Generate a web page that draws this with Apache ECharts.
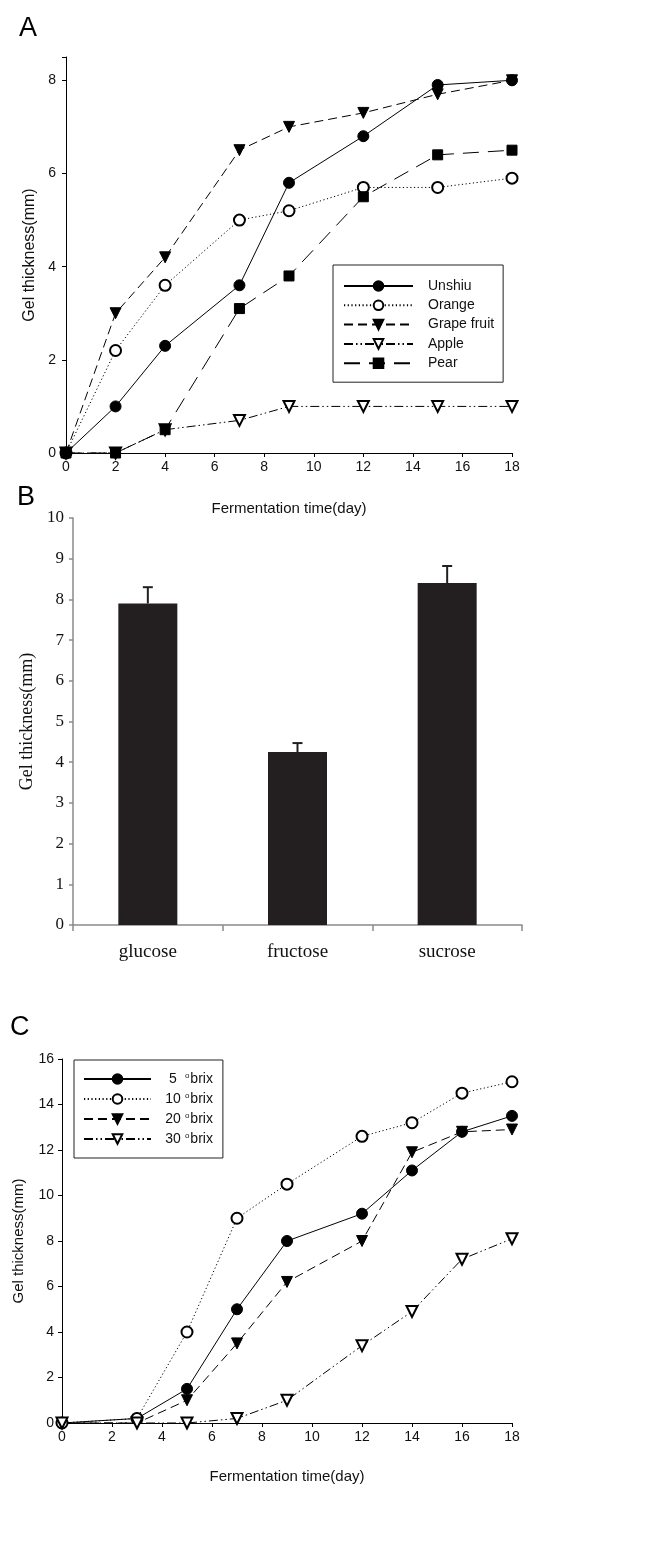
<!DOCTYPE html>
<html>
<head>
<meta charset="utf-8">
<script src="https://cdn.jsdelivr.net/npm/echarts@6/dist/echarts.min.js"></script>
<style>
html,body{margin:0;padding:0;background:#fff;}
#chart{width:646px;height:1546px;}
</style>
</head>
<body>
<div id="chart"></div>
<script>
// Panel A: fruit juices
var daysA = [0, 2, 4, 7, 9, 12, 15, 18];
var unshiu = [0, 1.0, 2.3, 3.6, 5.8, 6.8, 7.9, 8.0];
var orange = [0, 2.2, 3.6, 5.0, 5.2, 5.7, 5.7, 5.9];
var grapefruit = [0, 3.0, 4.2, 6.5, 7.0, 7.3, 7.7, 8.0];
var apple = [0, 0, 0.5, 0.7, 1.0, 1.0, 1.0, 1.0];
var pear = [0, 0, 0.5, 3.1, 3.8, 5.5, 6.4, 6.5];
var namesA = ['Unshiu', 'Orange', 'Grape fruit', 'Apple', 'Pear'];

// Panel B: sugars
var sugars = ['glucose', 'fructose', 'sucrose'];
var sugarMean = [7.9, 4.25, 8.4];
var sugarErr = [0.4, 0.22, 0.42];

// Panel C: brix
var daysC = [0, 3, 5, 7, 9, 12, 14, 16, 18];
var brix5 = [0, 0.2, 1.5, 5.0, 8.0, 9.2, 11.1, 12.8, 13.5];
var brix10 = [0, 0.2, 4.0, 9.0, 10.5, 12.6, 13.2, 14.5, 15.0];
var brix20 = [0, 0, 1.0, 3.5, 6.2, 8.0, 11.9, 12.8, 12.9];
var brix30 = [0, 0, 0, 0.2, 1.0, 3.4, 4.9, 7.2, 8.1];
var namesC = ['5 \u00b0brix', '10 \u00b0brix', '20 \u00b0brix', '30 \u00b0brix'];

function pairs(xs, ys) { return xs.map(function (x, i) { return [x, ys[i]]; }); }

var sans = 'Liberation Sans';
var serif = 'Liberation Serif';

var styles = [
  { symbol: 'circle', rotate: 0, dash: 'solid' },
  { symbol: 'emptyCircle', rotate: 0, dash: [1.2, 2.5] },
  { symbol: 'triangle', rotate: 180, dash: [9, 5] },
  { symbol: 'emptyTriangle', rotate: 180, dash: [9, 3, 1.5, 3, 1.5, 3] },
  { symbol: 'rect', rotate: 0, dash: [16, 9] }
];

function lineSeries(name, xs, ys, st, gi, size) {
  return {
    type: 'line', name: name, xAxisIndex: gi, yAxisIndex: gi,
    data: pairs(xs, ys),
    symbol: st.symbol, symbolRotate: st.rotate, symbolSize: size,
    showAllSymbol: true,
    lineStyle: { color: '#000', width: 1, type: st.dash },
    itemStyle: { color: '#000', borderColor: '#000', borderWidth: 1 },
    emphasis: { disabled: true },
    animation: false
  };
}

var seriesA = [unshiu, orange, grapefruit, apple, pear].map(function (ys, i) {
  return lineSeries(namesA[i], daysA, ys, styles[i], 0, styles[i].symbol === 'rect' ? 10 : 11);
});
var seriesC = [brix5, brix10, brix20, brix30].map(function (ys, i) {
  return lineSeries(namesC[i], daysC, ys, styles[i], 2, 11);
});

var valAxisCommon = function (font, size, margin) {
  return {
    axisLine: { show: true, lineStyle: { color: '#000', width: 1 } },
    axisTick: { show: true, inside: false, length: 4, lineStyle: { color: '#000' } },
    axisLabel: { color: '#111', fontFamily: font, fontSize: size, margin: margin },
    splitLine: { show: false }
  };
};

var option = {
  backgroundColor: '#fff',
  animation: false,
  title: [
    { text: 'A', left: 14, top: 10, textStyle: { fontFamily: sans, fontSize: 27, fontWeight: 'normal', color: '#000' } },
    { text: 'B', left: 12, top: 479, textStyle: { fontFamily: sans, fontSize: 27, fontWeight: 'normal', color: '#000' } },
    { text: 'C', left: 5, top: 1009, textStyle: { fontFamily: sans, fontSize: 27, fontWeight: 'normal', color: '#000' } }
  ],
  grid: [
    { left: 66, top: 57, width: 446, height: 396 },
    { left: 73, top: 518, width: 449, height: 407 },
    { left: 62, top: 1059, width: 450, height: 364 }
  ],
  xAxis: [
    Object.assign(valAxisCommon(sans, 14, 7), {
      type: 'value', gridIndex: 0, min: 0, max: 18, interval: 2,
      name: 'Fermentation time(day)', nameLocation: 'middle', nameGap: 48,
      nameTextStyle: { fontFamily: sans, fontSize: 15, color: '#111' }
    }),
    {
      type: 'category', gridIndex: 1, data: sugars, boundaryGap: true,
      axisLine: { show: true, lineStyle: { color: '#8a8a8a', width: 1.5 } },
      axisTick: { show: true, alignWithLabel: false, length: 6, lineStyle: { color: '#8a8a8a', width: 1.5 } },
      axisLabel: { color: '#111', fontFamily: serif, fontSize: 19, margin: 18 }
    },
    Object.assign(valAxisCommon(sans, 14, 7), {
      type: 'value', gridIndex: 2, min: 0, max: 18, interval: 2,
      name: 'Fermentation time(day)', nameLocation: 'middle', nameGap: 46,
      nameTextStyle: { fontFamily: sans, fontSize: 15, color: '#111' }
    })
  ],
  yAxis: [
    Object.assign(valAxisCommon(sans, 14, 10), {
      type: 'value', gridIndex: 0, min: 0, max: 8.5, interval: 2,
      axisLabel: {
        color: '#111', fontFamily: sans, fontSize: 14, margin: 10,
        formatter: function (v) { return v % 2 === 0 ? String(v) : ''; }
      },
      name: 'Gel thickness(mm)', nameLocation: 'middle', nameGap: 26,
      nameTextStyle: { fontFamily: sans, fontSize: 16, color: '#111' }
    }),
    {
      type: 'value', gridIndex: 1, min: 0, max: 10, interval: 1,
      axisLine: { show: true, lineStyle: { color: '#8a8a8a', width: 1.5 } },
      axisTick: { show: true, length: 4, lineStyle: { color: '#8a8a8a', width: 1.5 } },
      axisLabel: { color: '#111', fontFamily: serif, fontSize: 17, margin: 9 },
      splitLine: { show: false },
      name: 'Gel thickness(mm)', nameLocation: 'middle', nameGap: 36,
      nameTextStyle: { fontFamily: serif, fontSize: 18, color: '#111' }
    },
    Object.assign(valAxisCommon(sans, 14, 8), {
      type: 'value', gridIndex: 2, min: 0, max: 16, interval: 2,
      name: 'Gel thickness(mm)', nameLocation: 'middle', nameGap: 36,
      nameTextStyle: { fontFamily: sans, fontSize: 15, color: '#111' }
    })
  ],
  legend: [
    {
      data: namesA, orient: 'vertical', left: 333, top: 265,
      itemWidth: 69, itemHeight: 12, itemGap: 5.3,
      padding: [14, 9, 12, 10],
      borderColor: '#222', borderWidth: 1,
      selectedMode: false,
      textStyle: { fontFamily: sans, fontSize: 14, lineHeight: 14, color: '#111', padding: [0, 0, 0, 10] }
    },
    {
      data: namesC, orient: 'vertical', left: 74, top: 1060,
      itemWidth: 67, itemHeight: 12, itemGap: 6,
      padding: [12, 10, 12, 9],
      borderColor: '#222', borderWidth: 1,
      selectedMode: false,
      formatter: function (n) {
        var parts = n.split(' \u00b0');
        return '{n|' + parts[0] + '}{t| }{s|o}{t|' + parts[1] + '}';
      },
      textStyle: {
        fontFamily: sans, fontSize: 14, lineHeight: 14, color: '#111', padding: [0, 0, 0, 9],
        rich: {
          n: { fontFamily: sans, fontSize: 14, lineHeight: 14, color: '#111', width: 16, align: 'right' },
          t: { fontFamily: sans, fontSize: 14, lineHeight: 14, color: '#111' },
          s: { fontFamily: sans, fontSize: 8, lineHeight: 7, color: '#111', verticalAlign: 'top', padding: [0, 1, 0, 0] }
        }
      }
    }
  ],
  series: seriesA.concat([
    {
      type: 'bar', xAxisIndex: 1, yAxisIndex: 1, data: sugarMean,
      barWidth: 59,
      itemStyle: { color: '#231f20' },
      emphasis: { disabled: true }, animation: false
    },
    {
      type: 'custom', xAxisIndex: 1, yAxisIndex: 1,
      data: sugarMean.map(function (m, i) { return [i, m, m + sugarErr[i]]; }),
      encode: { x: 0, y: [1, 2] },
      renderItem: function (params, api) {
        var lo = api.coord([api.value(0), api.value(1)]);
        var hi = api.coord([api.value(0), api.value(2)]);
        var st = { stroke: '#231f20', lineWidth: 2 };
        return {
          type: 'group', children: [
            { type: 'line', shape: { x1: lo[0], y1: lo[1], x2: hi[0], y2: hi[1] }, style: st },
            { type: 'line', shape: { x1: hi[0] - 5, y1: hi[1], x2: hi[0] + 5, y2: hi[1] }, style: st }
          ]
        };
      },
      animation: false, z: 3
    }
  ]).concat(seriesC)
};

var chart = echarts.init(document.getElementById('chart'), null, { renderer: 'canvas' });
chart.setOption(option);
</script>
</body>
</html>
